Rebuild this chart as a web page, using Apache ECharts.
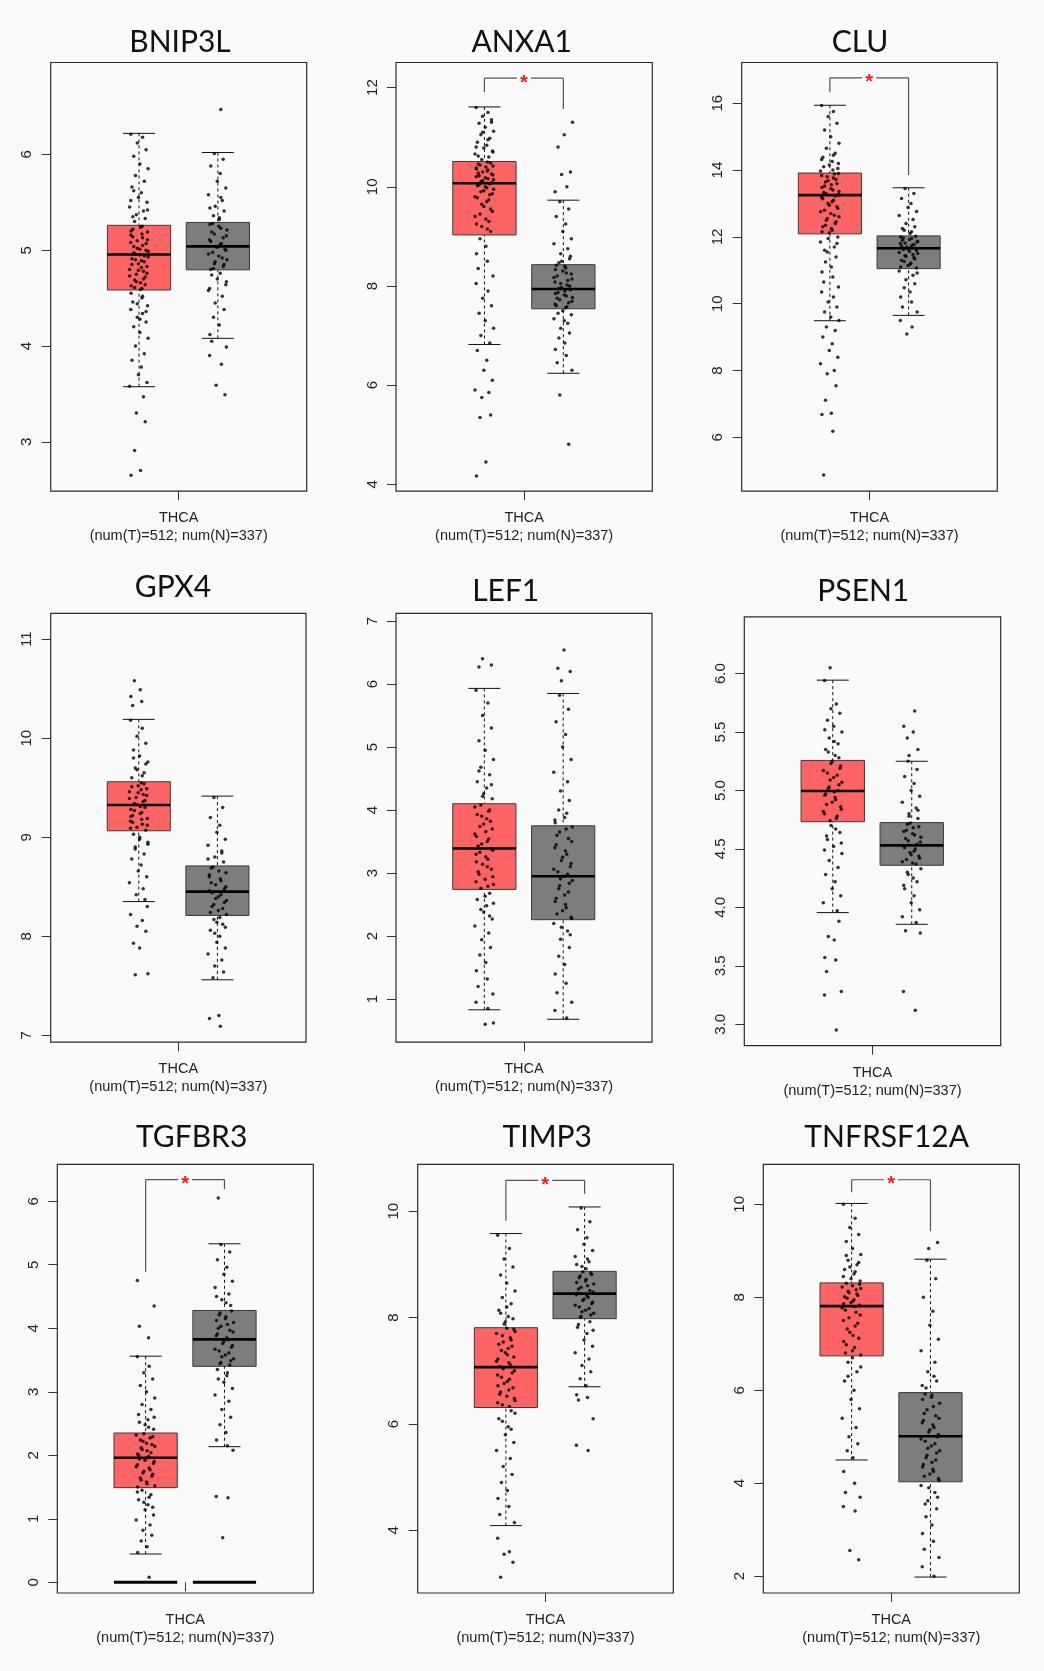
<!DOCTYPE html>
<html>
<head>
<meta charset="utf-8">
<script src="https://cdn.jsdelivr.net/npm/echarts@6/dist/echarts.min.js"></script>
<style>
html, body { margin: 0; padding: 0; background: #fafafa; }
#main { width: 1044px; height: 1671px; }
</style>
</head>
<body>
<div id="main"></div>
<script>
// genes, one panel each (row by row)
var genes = ['BNIP3L', 'ANXA1', 'CLU', 'GPX4', 'LEF1', 'PSEN1', 'TGFBR3', 'TIMP3', 'TNFRSF12A'];
var xLabel = 'THCA\n(num(T)=512; num(N)=337)';

// box stats: [lower whisker, Q1, median, Q3, upper whisker]
var boxT = [
  [3.575, 4.585, 4.955, 5.26, 6.22],
  [6.82, 9.03, 10.07, 10.51, 11.61],
  [9.49, 12.09, 13.25, 13.91, 15.94],
  [8.35, 9.065, 9.325, 9.56, 10.19],
  [0.83, 2.74, 3.39, 4.10, 5.93],
  [3.955, 4.733, 4.995, 5.257, 5.944],
  [0.445, 1.49, 1.96, 2.35, 3.56],
  [4.09, 6.31, 7.07, 7.81, 9.58],
  [4.50, 6.74, 7.81, 8.31, 10.02]
];
var boxN = [
  [4.08, 4.795, 5.04, 5.29, 6.02],
  [6.24, 7.54, 7.94, 8.43, 9.73],
  [9.65, 11.05, 11.66, 12.03, 13.47],
  [7.56, 8.21, 8.45, 8.71, 9.415],
  [0.68, 2.26, 2.95, 3.75, 5.85],
  [3.855, 4.36, 4.53, 4.725, 5.25],
  [2.135, 3.40, 3.825, 4.28, 5.33],
  [6.70, 7.98, 8.45, 8.87, 10.08],
  [1.98, 4.03, 5.01, 5.95, 8.82]
];

// y axis ranges and tick values
var yMin = [2.485, 3.864, 4.39, 6.93, 0.316, 2.817, -0.169, 2.823, 1.637];
var yMax = [6.96, 12.506, 17.22, 11.26, 7.12, 6.486, 6.58, 10.88, 10.86];
var yTicks = [
  [3, 4, 5, 6],
  [4, 6, 8, 10, 12],
  [6, 8, 10, 12, 14, 16],
  [7, 8, 9, 10, 11],
  [1, 2, 3, 4, 5, 6, 7],
  [3, 3.5, 4, 4.5, 5, 5.5, 6],
  [0, 1, 2, 3, 4, 5, 6],
  [4, 6, 8, 10],
  [2, 4, 6, 8, 10]
];

// significance brackets: [bar level, left leg end, right leg end]
var brackets = [null, [12.19, 11.91, 11.57], [16.76, 16.33, 13.85], null, null, null,
  [6.34, 4.89, 6.19], [10.58, 9.82, 10.33], [10.53, 10.26, 9.42]];

// TGFBR3: many samples at 0 (tumor, normal)
var tgfbr3Zero = [0, 0];

// sample points
var bnip3lT = [6.21, 6.18, 6.12, 6.05, 5.98, 5.9, 5.85, 5.78, 5.72, 5.66, 5.6, 5.55, 5.5, 5.45, 5.41, 5.37, 5.33, 5.3,
  5.24, 5.2, 5.17, 5.14, 5.11, 5.08, 5.05, 5.02, 5.0, 4.97, 4.95, 4.93, 4.9, 4.88, 4.85, 4.82, 4.79, 4.76, 4.73, 4.7, 4.67, 4.64, 4.61, 4.59,
  4.55, 4.5, 4.46, 4.42, 4.38, 4.34, 4.3, 4.25, 4.2, 4.14, 4.08, 4.0, 3.92, 3.85, 3.78, 3.7, 3.62, 3.58,
  3.47, 3.30, 3.21, 2.91, 2.70, 2.65,
  5.25, 5.22, 5.19, 5.16, 5.13, 5.1, 5.07, 5.04, 5.01, 4.99, 4.96, 4.94, 4.91, 4.89, 4.86, 4.83, 4.8, 4.78,
  4.75, 4.72, 4.69, 4.66, 4.63, 4.6, 5.35, 5.42, 5.52, 4.52, 4.44, 4.36, 5.62, 4.28];
var bnip3lN = [6.01, 5.95, 5.88, 5.8, 5.72, 5.65, 5.58, 5.52, 5.46, 5.41, 5.36, 5.32,
  5.27, 5.23, 5.19, 5.15, 5.11, 5.07, 5.04, 5.01, 4.98, 4.94, 4.9, 4.86, 4.83, 4.8,
  4.76, 4.7, 4.64, 4.58, 4.52, 4.45, 4.38, 4.3, 4.22, 4.12,
  6.47, 4.05, 3.99, 3.90, 3.81, 3.59, 3.49,
  5.28, 5.25, 5.21, 5.17, 5.13, 5.09, 5.06, 5.03, 5.0, 4.96, 4.92, 4.88, 4.85, 4.81, 5.34, 5.44, 5.55, 4.74, 4.67, 4.6];
var anxa1T = [11.6, 11.5, 11.42, 11.35, 11.28, 11.2, 11.12, 11.05, 10.98, 10.9, 10.84, 10.78, 10.72, 10.66, 10.6, 10.55,
  10.48, 10.44, 10.4, 10.36, 10.32, 10.28, 10.24, 10.2, 10.16, 10.12, 10.08, 10.04, 10.0, 9.95, 9.9, 9.84, 9.78, 9.7, 9.6, 9.5, 9.4, 9.3, 9.2, 9.1,
  8.95, 8.8, 8.65, 8.5, 8.35, 8.2, 8.05, 7.9, 7.75, 7.6, 7.45, 7.3, 7.15, 7.0, 6.85,
  6.7, 6.5, 6.3, 6.1, 5.9, 5.85, 5.75, 5.4, 5.35, 4.45, 4.17,
  10.5, 10.46, 10.42, 10.38, 10.34, 10.3, 10.26, 10.22, 10.18, 10.14, 10.1, 10.06, 10.02, 9.98, 9.92, 9.86, 9.8, 9.74,
  9.65, 9.55, 9.45, 9.35, 9.25, 9.15, 10.62, 10.7, 10.8, 10.95, 11.1, 11.3];
var anxa1N = [9.7, 9.55, 9.4, 9.25, 9.1, 8.95, 8.85, 8.75, 8.65, 8.55, 8.47,
  8.4, 8.33, 8.26, 8.2, 8.14, 8.08, 8.02, 7.97, 7.92, 7.87, 7.82, 7.77, 7.72, 7.66, 7.6, 7.56,
  7.5, 7.42, 7.34, 7.25, 7.15, 7.05, 6.95, 6.85, 6.72, 6.6, 6.45, 6.3,
  9.9, 10.0, 10.25, 10.3, 10.8, 11.05, 11.3, 5.8, 4.81,
  8.42, 8.36, 8.3, 8.24, 8.17, 8.11, 8.05, 8.0, 7.95, 7.9, 7.85, 7.8, 7.75, 7.69, 7.63, 7.58, 8.5, 8.6, 7.45, 7.3];
var cluT = [15.93, 15.75, 15.6, 15.4, 15.2, 15.0, 14.8, 14.65, 14.5, 14.38, 14.26, 14.15, 14.05, 13.97,
  13.88, 13.8, 13.72, 13.64, 13.56, 13.48, 13.4, 13.33, 13.26, 13.18, 13.1, 13.0, 12.9, 12.8, 12.7, 12.6, 12.5, 12.4, 12.3, 12.2, 12.12,
  12.0, 11.85, 11.7, 11.55, 11.4, 11.25, 11.1, 10.95, 10.8, 10.65, 10.5, 10.35, 10.2, 10.05, 9.9, 9.75, 9.6, 9.5,
  9.3, 9.2, 9.0, 8.8, 8.6, 8.4, 8.2, 8.0, 7.9, 7.54, 7.11, 6.72, 6.68, 6.18, 4.87,
  13.9, 13.84, 13.76, 13.68, 13.6, 13.52, 13.44, 13.36, 13.29, 13.22, 13.14, 13.05, 12.95, 12.85, 12.75, 12.65,
  12.55, 12.45, 12.35, 12.25, 12.15, 14.0, 14.1, 14.2, 14.32, 14.44, 11.95, 11.8, 11.6];
var cluN = [13.45, 13.3, 13.15, 13.0, 12.88, 12.76, 12.64, 12.52, 12.4, 12.3, 12.2, 12.1,
  12.0, 11.95, 11.9, 11.85, 11.8, 11.75, 11.7, 11.66, 11.62, 11.56, 11.5, 11.44, 11.38, 11.3, 11.22, 11.14, 11.07,
  10.98, 10.85, 10.72, 10.6, 10.48, 10.35, 10.2, 10.05, 9.9, 9.75,
  9.5, 9.3, 9.09,
  12.02, 11.97, 11.92, 11.87, 11.82, 11.77, 11.72, 11.68, 11.64, 11.59, 11.53, 11.47, 11.41, 11.34, 11.26, 11.18,
  11.1, 12.15, 12.25, 10.92];
var gpx4T = [10.18, 10.1, 10.02, 9.95, 9.88, 9.82, 9.76, 9.7, 9.65, 9.6,
  9.55, 9.52, 9.49, 9.46, 9.43, 9.4, 9.37, 9.34, 9.31, 9.28, 9.25, 9.22, 9.19, 9.16, 9.13, 9.1, 9.07,
  9.03, 8.98, 8.93, 8.88, 8.83, 8.78, 8.72, 8.66, 8.6, 8.54, 8.48, 8.42, 8.37,
  10.58, 10.49, 10.42, 10.37, 10.33, 8.3, 8.22, 8.16, 8.1, 8.05, 7.93, 7.88, 7.62, 7.61,
  9.54, 9.51, 9.48, 9.45, 9.42, 9.39, 9.36, 9.33, 9.3, 9.27, 9.24, 9.21, 9.18, 9.15, 9.12, 9.09,
  9.62, 9.68, 9.74, 9.8, 9.0, 8.95, 8.9];
var gpx4N = [9.4, 9.3, 9.2, 9.12, 9.05, 8.98, 8.92, 8.86, 8.8, 8.75,
  8.7, 8.66, 8.62, 8.58, 8.54, 8.5, 8.46, 8.42, 8.38, 8.34, 8.3, 8.26, 8.22,
  8.17, 8.12, 8.06, 8.0, 7.94, 7.88, 7.82, 7.76, 7.7, 7.64, 7.58,
  7.2, 7.17, 7.09,
  8.69, 8.64, 8.6, 8.56, 8.52, 8.48, 8.44, 8.4, 8.36, 8.32, 8.28, 8.24, 8.19, 8.14, 8.09, 8.78, 8.84, 8.03];
var lef1T = [5.9, 5.7, 5.5, 5.3, 5.1, 4.95, 4.8, 4.68, 4.56, 4.45, 4.35, 4.26, 4.18,
  4.05, 3.98, 3.9, 3.82, 3.74, 3.66, 3.58, 3.5, 3.43, 3.36, 3.3, 3.22, 3.14, 3.06, 2.98, 2.9, 2.82, 2.76,
  2.68, 2.58, 2.48, 2.38, 2.27, 2.16, 2.05, 1.94, 1.82, 1.7, 1.58, 1.45, 1.32, 1.2, 1.08, 0.95, 0.85,
  6.4, 6.3, 6.27, 0.6, 0.62,
  4.08, 4.0, 3.93, 3.86, 3.78, 3.7, 3.62, 3.54, 3.46, 3.39, 3.33, 3.26, 3.18, 3.1, 3.02, 2.94, 2.86, 2.79,
  4.22, 4.4, 4.62, 2.63, 2.52, 2.42, 2.32];
var lef1N = [5.82, 5.6, 5.4, 5.2, 5.0, 4.8, 4.6, 4.45, 4.3, 4.15, 4.0, 3.88, 3.8,
  3.7, 3.6, 3.5, 3.4, 3.3, 3.2, 3.1, 3.02, 2.95, 2.88, 2.8, 2.7, 2.6, 2.5, 2.4, 2.3,
  2.2, 2.08, 1.95, 1.82, 1.68, 1.55, 1.4, 1.25, 1.1, 0.95, 0.82, 0.7,
  6.05, 6.2, 6.25, 6.54,
  3.73, 3.65, 3.55, 3.45, 3.35, 3.25, 3.15, 3.06, 2.98, 2.91, 2.84, 2.75, 2.65, 2.55, 2.45, 2.35, 2.28,
  3.84, 3.95, 2.14, 2.02];
var psen1T = [5.94, 5.74, 5.7, 5.66, 5.6, 5.55, 5.5, 5.45, 5.4, 5.35, 5.3,
  5.25, 5.21, 5.17, 5.13, 5.09, 5.05, 5.02, 4.99, 4.96, 4.92, 4.88, 4.84, 4.8, 4.76,
  4.7, 4.64, 4.58, 4.52, 4.46, 4.4, 4.34, 4.28, 4.22, 4.16, 4.1, 4.04, 3.97,
  6.05, 3.88, 3.75, 3.72, 3.57, 3.55, 3.45, 3.28, 3.25, 2.95,
  5.23, 5.19, 5.15, 5.11, 5.07, 5.03, 5.0, 4.97, 4.94, 4.9, 4.86, 4.82, 4.78, 4.74,
  5.28, 5.33, 5.42, 5.52, 4.67, 4.61, 4.55, 4.49];
var psen1N = [5.25, 5.18, 5.12, 5.06, 5.0, 4.95, 4.9, 4.85, 4.8, 4.76,
  4.71, 4.68, 4.65, 4.62, 4.59, 4.56, 4.53, 4.5, 4.47, 4.44, 4.41, 4.38,
  4.33, 4.28, 4.22, 4.16, 4.1, 4.04, 3.98, 3.92, 3.87,
  5.3, 5.35, 5.45, 5.5, 5.55, 5.68, 3.8, 3.78, 3.28, 3.12,
  4.72, 4.69, 4.66, 4.63, 4.6, 4.57, 4.54, 4.51, 4.48, 4.45, 4.42, 4.39, 4.37, 4.78, 4.83, 4.3, 4.25, 4.19];
var tgfbr3T = [3.55, 3.4, 3.3, 3.2, 3.1, 3.0, 2.9, 2.8, 2.72, 2.64, 2.56, 2.48, 2.41,
  2.32, 2.27, 2.22, 2.17, 2.12, 2.07, 2.02, 1.98, 1.94, 1.9, 1.85, 1.8, 1.75, 1.7, 1.64, 1.58, 1.52,
  1.45, 1.38, 1.3, 1.22, 1.14, 1.06, 0.98, 0.9, 0.82, 0.74, 0.65, 0.56, 0.47,
  3.85, 4.03, 4.35, 4.75, 0.08,
  2.34, 2.29, 2.24, 2.19, 2.14, 2.09, 2.04, 2.0, 1.96, 1.92, 1.87, 1.82, 1.77, 1.72, 1.67, 1.61, 1.55, 1.5,
  2.44, 2.52, 2.6, 1.42, 1.34, 1.26, 1.18];
var tgfbr3N = [5.32, 5.2, 5.08, 4.96, 4.85, 4.74, 4.64, 4.54, 4.45, 4.36,
  4.24, 4.18, 4.12, 4.06, 4.0, 3.94, 3.88, 3.82, 3.76, 3.7, 3.64, 3.58, 3.52, 3.46, 3.42,
  3.35, 3.25, 3.15, 3.05, 2.95, 2.85, 2.72, 2.6, 2.48, 2.36, 2.24, 2.15,
  6.05, 2.08, 1.35, 1.33, 0.7,
  4.27, 4.21, 4.15, 4.09, 4.03, 3.97, 3.91, 3.85, 3.79, 3.73, 3.67, 3.61, 3.55, 3.49, 3.44, 4.4, 4.5, 3.3, 3.2];
var timp3T = [9.55, 9.3, 9.1, 8.95, 8.8, 8.65, 8.5, 8.38, 8.26, 8.14, 8.02, 7.92,
  7.78, 7.7, 7.62, 7.54, 7.46, 7.38, 7.3, 7.22, 7.15, 7.08, 7.0, 6.92, 6.84, 6.76, 6.68, 6.6, 6.52, 6.44, 6.36,
  6.25, 6.1, 5.95, 5.8, 5.65, 5.5, 5.35, 5.2, 5.05, 4.9, 4.75, 4.6, 4.45, 4.3, 4.15,
  3.85, 3.6, 3.55, 3.4, 3.12,
  7.8, 7.74, 7.66, 7.58, 7.5, 7.42, 7.34, 7.26, 7.18, 7.11, 7.04, 6.96, 6.88, 6.8, 6.72, 6.64, 6.56, 6.48, 6.4, 6.33,
  7.88, 7.98, 8.08, 8.2, 6.2, 6.05, 5.9];
var timp3N = [10.06, 9.8, 9.65, 9.5, 9.38, 9.26, 9.15, 9.05, 8.96,
  8.84, 8.78, 8.72, 8.66, 8.6, 8.54, 8.48, 8.43, 8.38, 8.32, 8.26, 8.2, 8.14, 8.08, 8.02,
  7.92, 7.82, 7.7, 7.58, 7.46, 7.34, 7.22, 7.1, 6.98, 6.85, 6.72,
  6.55, 6.5, 6.45, 6.1, 5.6, 5.5,
  8.86, 8.81, 8.75, 8.69, 8.63, 8.57, 8.51, 8.46, 8.41, 8.35, 8.29, 8.23, 8.17, 8.11, 8.05, 8.0,
  8.92, 9.0, 9.1, 7.87, 7.76];
var tnfrsf12aT = [10.0, 9.7, 9.5, 9.35, 9.2, 9.05, 8.92, 8.8, 8.7, 8.6, 8.5, 8.4,
  8.28, 8.22, 8.16, 8.1, 8.04, 7.98, 7.92, 7.86, 7.8, 7.72, 7.62, 7.5, 7.38, 7.25, 7.12, 6.98, 6.85, 6.76,
  6.6, 6.4, 6.2, 6.0, 5.8, 5.6, 5.4, 5.2, 5.0, 4.85, 4.7, 4.55,
  4.25, 4.0, 3.8, 3.7, 3.5, 3.4, 2.55, 2.35,
  8.3, 8.25, 8.19, 8.13, 8.07, 8.01, 7.95, 7.89, 7.83, 7.77, 7.68, 7.56, 7.44, 7.32, 7.18, 7.05, 6.92, 6.8,
  8.35, 8.45, 8.55, 8.65, 8.75, 8.9, 6.7, 6.5, 6.3];
var tnfrsf12aN = [8.8, 8.4, 8.0, 7.7, 7.4, 7.1, 6.85, 6.6, 6.4, 6.2, 6.05,
  5.9, 5.8, 5.65, 5.5, 5.4, 5.3, 5.2, 5.1, 5.0, 4.9, 4.8, 4.7, 4.6, 4.5, 4.4, 4.3, 4.2, 4.1,
  3.95, 3.8, 3.62, 3.45, 3.28, 3.1, 2.92, 2.75, 2.58, 2.4, 2.2, 2.0,
  9.05, 9.18,
  5.92, 5.85, 5.72, 5.58, 5.45, 5.35, 5.25, 5.15, 5.05, 4.95, 4.85, 4.75, 4.65, 4.55, 4.45, 4.35, 4.25, 4.15, 4.06,
  6.1, 6.3, 3.9, 3.7, 3.55];

var pointsT = [bnip3lT, anxa1T, cluT, gpx4T, lef1T, psen1T, tgfbr3T, timp3T, tnfrsf12aT];
var pointsN = [bnip3lN, anxa1N, cluN, gpx4N, lef1N, psen1N, tgfbr3N, timp3N, tnfrsf12aN];

// ---- layout (px) ----
var panelRects = [
  [50.7, 62.5, 256, 428.6], [396, 62.5, 256.3, 428.6], [741.7, 62.5, 255.6, 428.6],
  [50.7, 613.4, 255.3, 428.8], [396, 613.4, 256, 428.8], [744.3, 616.8, 256.4, 428.8],
  [57.3, 1164.4, 256, 428.6], [417.7, 1164.4, 255.6, 428.6], [763.3, 1164.4, 256, 428.6]
];
var titlePos = [[180, 42.5], [521.7, 42.5], [860, 42.5], [173, 587], [505.7, 591.7], [863.3, 591.7],
  [191.7, 1137.4], [547.3, 1137.4], [886.7, 1137.4]];

var CT = 0.345, CN = 0.653;     // box centres in x units
var BOX_W = 0.247, CAP_W = 0.125;
var boxColors = ['#ff6464', '#7d7d7d'];
// fixed horizontal spread of the dots around the box centre
var jitter = [-0.028, 0.012, -0.006, 0.024, -0.018, 0.003, 0.031, -0.012, 0.018, -0.024, 0.008, -0.002,
  0.027, -0.032, 0.015, -0.009, 0.021, -0.015, 0.005, -0.027, 0.010, -0.021, 0.029];
var JIT = 1.15;

var chart = echarts.init(document.getElementById('main'), null, {renderer: 'canvas'});

function renderBox(params, api) {
  var c = api.value(0);
  var lo = api.value(1), q1 = api.value(2), med = api.value(3), q3 = api.value(4), hi = api.value(5);
  var col = boxColors[api.value(6)];
  var hw = BOX_W / 2, cw = CAP_W / 2;
  var a = api.coord([c - hw, q3]), b = api.coord([c + hw, q1]);
  var pHi = api.coord([c, hi]), pLo = api.coord([c, lo]);
  var pQ3 = api.coord([c, q3]), pQ1 = api.coord([c, q1]);
  var m1 = api.coord([c - hw, med]), m2 = api.coord([c + hw, med]);
  var cL1 = api.coord([c - cw, hi]), cR1 = api.coord([c + cw, hi]);
  var cL2 = api.coord([c - cw, lo]), cR2 = api.coord([c + cw, lo]);
  var dash = {stroke: '#111', lineWidth: 1, lineDash: [3, 3]};
  var solid = {stroke: '#111', lineWidth: 1};
  return {
    type: 'group',
    children: [
      {type: 'line', shape: {x1: pHi[0], y1: pHi[1], x2: pQ3[0], y2: pQ3[1]}, style: dash},
      {type: 'line', shape: {x1: pLo[0], y1: pLo[1], x2: pQ1[0], y2: pQ1[1]}, style: dash},
      {type: 'line', shape: {x1: cL1[0], y1: cL1[1], x2: cR1[0], y2: cR1[1]}, style: solid},
      {type: 'line', shape: {x1: cL2[0], y1: cL2[1], x2: cR2[0], y2: cR2[1]}, style: solid},
      {type: 'rect', shape: {x: a[0], y: a[1], width: b[0] - a[0], height: b[1] - a[1]},
        style: {fill: col, stroke: '#3a3a3a', lineWidth: 1}},
      {type: 'line', shape: {x1: m1[0], y1: m1[1], x2: m2[0], y2: m2[1]},
        style: {stroke: '#000', lineWidth: 2.6}}
    ]
  };
}

function renderBracket(params, api) {
  var top = api.value(0), lEnd = api.value(1), rEnd = api.value(2);
  var pl = api.coord([CT, top]), pr = api.coord([CN, top]);
  var pl2 = api.coord([CT, lEnd]), pr2 = api.coord([CN, rEnd]);
  var mid = (pl[0] + pr[0]) / 2, gap = 7;
  var st = {stroke: '#555', lineWidth: 1.2};
  return {
    type: 'group',
    children: [
      {type: 'line', shape: {x1: pl2[0], y1: pl2[1], x2: pl[0], y2: pl[1]}, style: st},
      {type: 'line', shape: {x1: pl[0], y1: pl[1], x2: mid - gap, y2: pl[1]}, style: st},
      {type: 'line', shape: {x1: mid + gap, y1: pr[1], x2: pr[0], y2: pr[1]}, style: st},
      {type: 'line', shape: {x1: pr[0], y1: pr[1], x2: pr2[0], y2: pr2[1]}, style: st},
      {type: 'text', x: mid, y: pl[1] + 5,
        style: {text: '*', fill: '#ff1a1a', fontSize: 20, fontWeight: 'bold', fontFamily: 'Liberation Sans',
          align: 'center', verticalAlign: 'middle', textAlign: 'center', textVerticalAlign: 'middle'}}
    ]
  };
}

function renderZero(params, api) {
  var c = api.value(0), v = api.value(1);
  var p1 = api.coord([c - BOX_W / 2, v]), p2 = api.coord([c + BOX_W / 2, v]);
  return {type: 'line', shape: {x1: p1[0], y1: p1[1], x2: p2[0], y2: p2[1]},
    style: {stroke: '#000', lineWidth: 3}};
}

var grids = [], xAxes = [], yAxes = [], series = [], graphics = [];

genes.forEach(function (gene, i) {
  var r = panelRects[i];
  grids.push({
    left: r[0], top: r[1], width: r[2], height: r[3],
    show: true, borderColor: '#2b2b2b', borderWidth: 1.2, backgroundColor: 'transparent'
  });
  xAxes.push({
    gridIndex: i, type: 'value', min: 0, max: 1,
    axisLine: {show: false},
    splitLine: {show: false},
    axisTick: {show: true, length: 9, customValues: [0.5], lineStyle: {color: '#333'}},
    axisLabel: {
      show: true, customValues: [0.5], margin: 18,
      formatter: function () { return xLabel; },
      fontFamily: 'Liberation Sans', fontSize: 14.5, lineHeight: 18, color: '#222'
    }
  });
  yAxes.push({
    gridIndex: i, type: 'value', min: yMin[i], max: yMax[i],
    axisLine: {show: false},
    splitLine: {show: false},
    axisTick: {show: true, length: 9, customValues: yTicks[i], lineStyle: {color: '#333'}},
    axisLabel: {
      show: true, customValues: yTicks[i], rotate: 90, margin: 16,
      formatter: i === 5 ? function (v) { return v.toFixed(1); } : function (v) { return String(v); },
      fontFamily: 'Liberation Sans', fontSize: 15, color: '#222'
    }
  });

  series.push({
    type: 'custom', xAxisIndex: i, yAxisIndex: i, silent: true, z: 2,
    renderItem: renderBox,
    data: [[CT].concat(boxT[i], [0]), [CN].concat(boxN[i], [1])]
  });

  if (gene === 'TGFBR3') {
    series.push({
      type: 'custom', xAxisIndex: i, yAxisIndex: i, silent: true, z: 4,
      renderItem: renderZero,
      data: [[CT, tgfbr3Zero[0]], [CN, tgfbr3Zero[1]]]
    });
  }

  series.push({
    type: 'scatter', xAxisIndex: i, yAxisIndex: i, silent: true, z: 3,
    symbol: 'circle', symbolSize: 3.5,
    itemStyle: {color: '#000'},
    data: pointsT[i].map(function (v, k) { return [CT + JIT * jitter[k % jitter.length], v]; })
  });
  series.push({
    type: 'scatter', xAxisIndex: i, yAxisIndex: i, silent: true, z: 3,
    symbol: 'circle', symbolSize: 3.5,
    itemStyle: {color: '#000'},
    data: pointsN[i].map(function (v, k) { return [CN + JIT * jitter[(k + 7) % jitter.length], v]; })
  });

  if (brackets[i]) {
    series.push({
      type: 'custom', xAxisIndex: i, yAxisIndex: i, silent: true, z: 4,
      renderItem: renderBracket,
      data: [brackets[i]]
    });
  }

  graphics.push({
    type: 'text', x: titlePos[i][0], y: titlePos[i][1],
    style: {
      text: gene, fill: '#111', fontSize: 30, fontFamily: 'Lato',
      align: 'center', verticalAlign: 'middle', textAlign: 'center', textVerticalAlign: 'middle'
    }
  });
});

chart.setOption({
  backgroundColor: '#fafafa',
  animation: false,
  grid: grids,
  xAxis: xAxes,
  yAxis: yAxes,
  series: series,
  graphic: graphics
});
</script>
</body>
</html>
